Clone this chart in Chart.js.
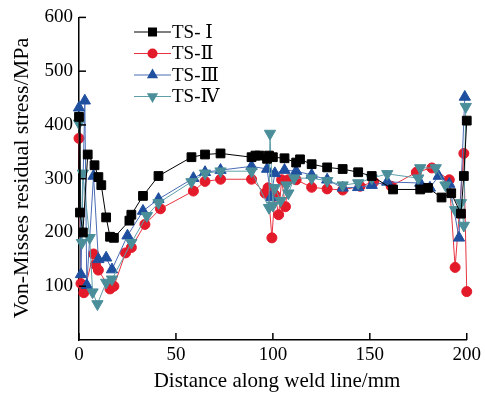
<!DOCTYPE html>
<html><head><meta charset="utf-8">
<script src="https://cdn.jsdelivr.net/npm/chart.js@4/dist/chart.umd.min.js"></script>
<style>html,body{margin:0;padding:0;background:#fff}#wrap{width:485px;height:398px}</style>
</head><body><div id="wrap"><canvas id="c" width="485" height="398"></canvas></div>
<script>
const seriesNames = ["TS- Ⅰ", "TS-Ⅱ", "TS-Ⅲ", "TS-Ⅳ"];
const xTicks = [0, 50, 100, 150, 200];
const yTicks = [100, 200, 300, 400, 500, 600];
const xTitle = 'Distance along weld line/mm';
const yTitle = 'Von-Misses residual stress/MPa';

const distI = [0, 0.5, 2, 4.5, 8, 10, 11.5, 14, 16, 18, 26, 27, 33, 41, 58, 65, 73, 89, 91, 93, 97, 98, 100, 106, 112, 114, 120, 128, 136, 144, 151, 162, 176, 180, 187, 192, 197, 198.5, 200];
const stressI = [415, 237, 200, 345, 325, 303, 288, 228, 192, 190, 222, 233, 268, 305, 340, 345, 347, 340, 343, 343, 337, 343, 340, 338, 330, 336, 327, 321, 318, 312, 305, 280, 280, 283, 265, 273, 235, 305, 408];

const distII = [0, 1, 2.5, 7.5, 8.5, 10, 16, 18, 24, 27, 34, 42, 59, 65, 73, 89, 96, 97.5, 99.5, 101, 103, 104.5, 106.5, 108, 112, 120, 128, 136, 145, 152, 161, 174, 182, 191, 194, 198.5, 200];
const stressII = [375, 105, 88, 160, 140, 130, 95, 100, 162, 172, 215, 244, 277, 295, 299, 299, 273, 283, 190, 270, 233, 298, 248, 298, 298, 284, 281, 279, 286, 294, 286, 312, 320, 298, 135, 347, 90];

const distIII = [0, 1, 3, 4, 7.5, 10, 14, 17, 25, 33, 41, 59, 65, 73, 89, 97, 99, 101, 106, 112, 120, 128, 136, 144, 151, 159, 176, 181, 185.5, 191, 196, 199];
const stressIII = [432, 122, 445, 102, 305, 150, 153, 131, 194, 240, 262, 301, 312, 316, 323, 318, 265, 310, 316, 314, 307, 298, 283, 284, 288, 294, 292, 283, 305, 290, 190, 452];

const distIV = [0, 1.5, 2, 5.5, 7, 9.5, 14, 17, 27, 35, 41, 58, 65, 73, 89, 98, 98.5, 100, 101, 104, 107, 108, 111, 120, 128, 136, 144, 151, 159, 175, 176, 184, 189, 194, 197, 198.5, 199.5];
const stressIV = [403, 181, 310, 190, 89, 67, 107, 113, 181, 231, 255, 294, 310, 314, 314, 246, 384, 250, 283, 259, 288, 273, 301, 301, 296, 288, 292, 301, 309, 301, 320, 320, 288, 242, 255, 213, 434];

const pts = (xs, ys) => xs.map((x, i) => ({x: x, y: ys[i]}));

const styles = [
  {line: "#000000", fill: "#000000", shape: "rect", r: 6.2, rot: 0, order: 0},
  {line: "#e8323f", fill: "#e31a2a", shape: "circle", r: 5, rot: 0, order: 3},
  {line: "#4a6cb5", fill: "#1f4f9f", shape: "triangle", r: 6.5, rot: 0, order: 2},
  {line: "#5e9fa9", fill: "#4a8e9a", shape: "triangle", r: 6.5, rot: 180, order: 1}
];
const allData = [pts(distI, stressI), pts(distII, stressII), pts(distIII, stressIII), pts(distIV, stressIV)];

const datasets = allData.map((d, i) => ({
  label: seriesNames[i],
  data: d,
  borderColor: styles[i].line,
  backgroundColor: styles[i].fill,
  pointBackgroundColor: styles[i].fill,
  pointBorderColor: styles[i].fill,
  pointBorderWidth: 1,
  pointStyle: styles[i].shape,
  pointRadius: styles[i].r,
  pointRotation: styles[i].rot,
  borderWidth: 1,
  tension: 0,
  order: styles[i].order,
  clip: false
}));

const FONT = "'Liberation Serif', 'DejaVu Serif', 'Times New Roman', serif";

const deco = {
  id: 'deco',
  afterDraw(chart) {
    const ctx = chart.ctx, xs = chart.scales.x, ys = chart.scales.y, a = chart.chartArea;
    ctx.save();
    ctx.strokeStyle = '#000'; ctx.lineWidth = 1.5;
    xTicks.forEach(v => { const px = xs.getPixelForValue(v); ctx.beginPath(); ctx.moveTo(px, a.bottom); ctx.lineTo(px, a.bottom - 7); ctx.stroke(); });
    yTicks.forEach(v => { const py = ys.getPixelForValue(v); ctx.beginPath(); ctx.moveTo(a.left, py); ctx.lineTo(a.left + 7, py); ctx.stroke(); });
    // axis titles
    ctx.fillStyle = '#000'; ctx.textAlign = 'center'; ctx.textBaseline = 'middle';
    ctx.font = "21px " + FONT;
    ctx.fillText(xTitle, 277, 381);
    ctx.save();
    ctx.translate(22, 178);
    ctx.rotate(-Math.PI / 2);
    ctx.font = "22px " + FONT;
    ctx.fillText(yTitle, 0, 0);
    ctx.restore();
    // legend
    const lx = 134, ly = 32, dy = 21.5;
    seriesNames.forEach((n, i) => {
      const y = ly + i * dy, s = styles[i];
      ctx.strokeStyle = s.line; ctx.lineWidth = 1.2;
      ctx.beginPath(); ctx.moveTo(lx, y); ctx.lineTo(lx + 37, y); ctx.stroke();
      const cx = lx + 18.5;
      ctx.fillStyle = s.fill;
      ctx.beginPath();
      if (s.shape === 'rect') { ctx.rect(cx - 4.5, y - 4.5, 9, 9); }
      else if (s.shape === 'circle') { ctx.arc(cx, y, 5, 0, Math.PI * 2); }
      else if (s.rot === 0) { ctx.moveTo(cx, y - 6.5); ctx.lineTo(cx + 5.6, y + 3.3); ctx.lineTo(cx - 5.6, y + 3.3); ctx.closePath(); }
      else { ctx.moveTo(cx, y + 6.5); ctx.lineTo(cx + 5.6, y - 3.3); ctx.lineTo(cx - 5.6, y - 3.3); ctx.closePath(); }
      ctx.fill();
      ctx.fillStyle = '#000'; ctx.font = "19px " + FONT; ctx.textBaseline = 'middle'; ctx.textAlign = 'left';
      ctx.fillText(n, lx + 38, y + 1);
    });
    ctx.restore();
  }
};

new Chart(document.getElementById('c'), {
  type: 'line',
  data: {datasets: datasets},
  plugins: [deco],
  options: {
    responsive: false,
    animation: false,
    layout: {padding: {left: 0, top: 13, right: 16, bottom: 0}},
    plugins: {legend: {display: false}, tooltip: {enabled: false}},
    scales: {
      x: {
        type: 'linear', min: 0, max: 200,
        afterBuildTicks: s => { s.ticks = xTicks.map(v => ({value: v})); },
        afterFit: s => { s.height = 58; },
        grid: {display: false, drawTicks: false},
        border: {display: true, color: '#000', width: 1.5},
        ticks: {color: '#000', font: {family: FONT, size: 19}, padding: 4, maxRotation: 0}
      },
      y: {
        type: 'linear', min: 0, max: 600,
        afterBuildTicks: s => { s.ticks = yTicks.map(v => ({value: v})); },
        afterFit: s => { s.width = 79; },
        grid: {display: false, drawTicks: false},
        border: {display: true, color: '#000', width: 1.5},
        ticks: {color: '#000', font: {family: FONT, size: 19}, padding: 6}
      }
    }
  }
});
</script></body></html>
